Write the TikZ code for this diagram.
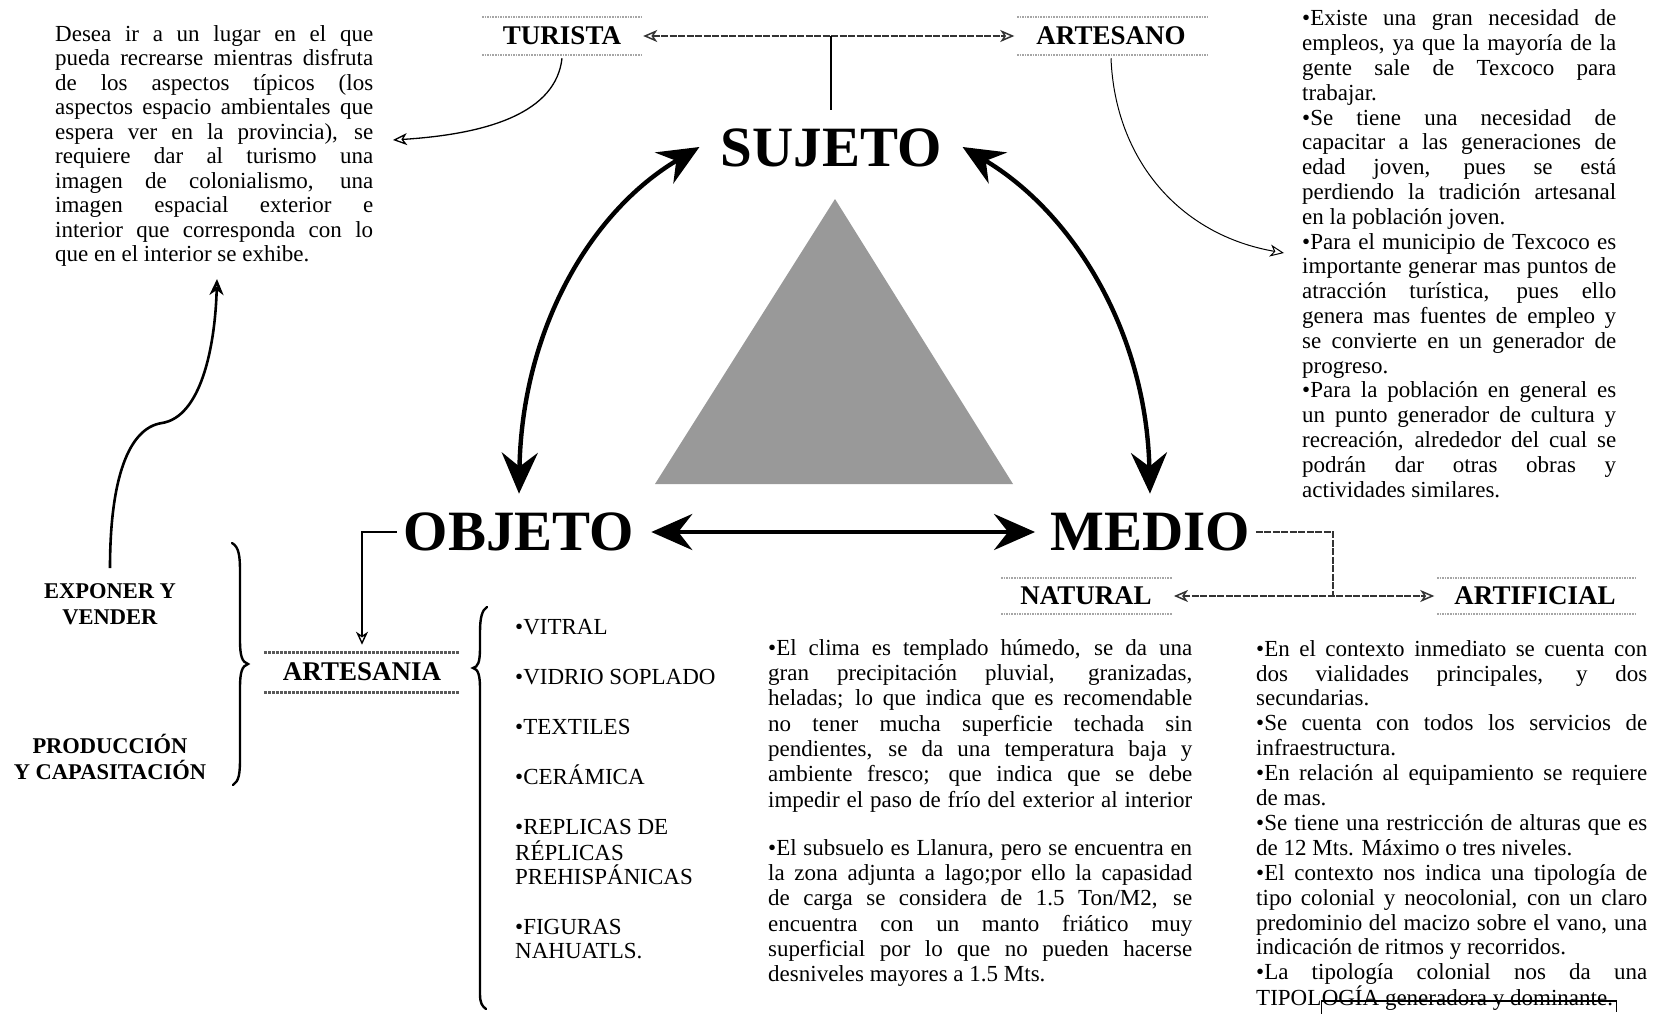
\documentclass[tikz,border=0pt]{standalone}
\usepackage{fontspec}
\setmainfont{Liberation Serif}
\usetikzlibrary{arrows.meta}
\newcommand\myjl[1]{\hbox to \hsize{\strut #1}}
\newcommand\myrl[1]{\hbox to \hsize{\strut #1\hfil}}
\begin{document}
\begin{tikzpicture}[x=1pt,y=-1pt,
  bigword/.style={inner sep=0pt, font=\fontsize{57}{60}\selectfont\bfseries},
  tag/.style={inner sep=0pt, font=\fontsize{27}{30}\selectfont\bfseries},
  sidetag/.style={inner sep=0pt, align=center, font=\fontsize{22.5}{26}\selectfont\bfseries},
  item/.style={inner sep=0pt, anchor=base west, font=\fontsize{23}{25}\selectfont},
  para/.style={inner sep=0pt, anchor=north west},
  heavyarrow/.style={line width=4.4pt, {Stealth[length=41pt,width=36pt,inset=14pt]}-{Stealth[length=41pt,width=36pt,inset=14pt]}},
  thinarrow/.style={line width=1.3pt, -{Stealth[open,length=14pt,width=12pt,inset=4pt]}},
  grayline/.style={line width=1.5pt, black!80, dash pattern=on 7pt off 1.5pt},
  tagedge/.style={line width=1.6pt, black!35, densely dotted},
  darkedge/.style={line width=3pt, black!65, densely dotted},
  bracestroke/.style={line width=2.4pt, line cap=round},
]
\useasboundingbox (0,0) rectangle (1667,1014);

% triangle
\fill[black!40] (835,199) -- (1013,484) -- (655,484) -- cycle;

% main words
\node[bigword] (suj) at (831,148) {SUJETO};
\node[bigword] (obj) at (519,532) {OBJETO};
\node[bigword] (med) at (1150,532) {MEDIO};

% tags
\node[tag] (tur) at (562,36) {TURISTA};
\node[tag] (arte) at (1111,36) {ARTESANO};
\node[tag] (nat) at (1086,596) {NATURAL};
\node[tag] (arti) at (1535,596) {ARTIFICIAL};
\node[tag] (artn) at (362,672) {ARTESANIA};
\draw[tagedge] (482,17) -- (642,17);
\draw[tagedge] (482,55) -- (642,55);
\draw[tagedge] (1017,17) -- (1207,17);
\draw[tagedge] (1017,55) -- (1207,55);
\draw[tagedge] (1001,578) -- (1172,578);
\draw[tagedge] (1001,614) -- (1172,614);
\draw[tagedge] (1437,578) -- (1635,578);
\draw[tagedge] (1437,614) -- (1635,614);
\draw[darkedge] (264,652) -- (459,652);
\draw[darkedge] (264,692) -- (459,692);

\node[sidetag] (expo) at (110,604) {EXPONER Y\\VENDER};
\node[sidetag] (prod) at (110,757) {PRODUCCIÓN\\Y CAPASITACIÓN};

% paragraphs
\node[para] (tl) at (55,23.7) {\parbox[t]{318pt}{\fontsize{23}{24.5}\selectfont
\myjl{Desea ir a un lugar en el que}
\myjl{pueda recrearse mientras disfruta}
\myjl{de los aspectos típicos (los}
\myjl{aspectos espacio ambientales que}
\myjl{espera ver en la provincia), se}
\myjl{requiere dar al turismo una}
\myjl{imagen de colonialismo, una}
\myjl{imagen espacial exterior e}
\myjl{interior que corresponda con lo}
\myrl{que en el interior se exhibe.}}};

\node[para] (tr) at (1302,8.3) {\parbox[t]{314pt}{\fontsize{23}{24.8}\selectfont
\myjl{•Existe una gran necesidad de}
\myjl{empleos, ya que la mayoría de la}
\myjl{gente sale de Texcoco para}
\myrl{trabajar.}
\myjl{•Se tiene una necesidad de}
\myjl{capacitar a las generaciones de}
\myjl{edad joven, pues se está}
\myjl{perdiendo la tradición artesanal}
\myrl{en la población joven.}
\myjl{•Para el municipio de Texcoco es}
\myjl{importante generar mas puntos de}
\myjl{atracción turística, pues ello}
\myjl{genera mas fuentes de empleo y}
\myjl{se convierte en un generador de}
\myrl{progreso.}
\myjl{•Para la población en general es}
\myjl{un punto generador de cultura y}
\myjl{recreación, alrededor del cual se}
\myjl{podrán dar otras obras y}
\myrl{actividades similares.}}};

\node[para] (bm1) at (768,637.3) {\parbox[t]{424pt}{\fontsize{23}{25.3}\selectfont
\myjl{•El clima es templado húmedo, se da una}
\myjl{gran precipitación pluvial, granizadas,}
\myjl{heladas; lo que indica que es recomendable}
\myjl{no tener mucha superficie techada sin}
\myjl{pendientes, se da una temperatura baja y}
\myjl{ambiente fresco; que indica que se debe}
\myjl{impedir el paso de frío del exterior al interior}}};

\node[para] (bm2) at (768,837.3) {\parbox[t]{424pt}{\fontsize{23}{25.3}\selectfont
\myjl{•El subsuelo es Llanura, pero se encuentra en}
\myjl{la zona adjunta a lago;por ello la capasidad}
\myjl{de carga se considera de 1.5 Ton/M2, se}
\myjl{encuentra con un manto friático muy}
\myjl{superficial por lo que no pueden hacerse}
\myrl{desniveles mayores a 1.5 Mts.}}};

\node[para] (br) at (1256,638.5) {\parbox[t]{391pt}{\fontsize{23}{24.9}\selectfont
\myjl{•En el contexto inmediato se cuenta con}
\myjl{dos vialidades principales, y dos}
\myrl{secundarias.}
\myjl{•Se cuenta con todos los servicios de}
\myrl{infraestructura.}
\myjl{•En relación al equipamiento se requiere}
\myrl{de mas.}
\myjl{•Se tiene una restricción de alturas que es}
\myrl{de 12 Mts. Máximo o tres niveles.}
\myjl{•El contexto nos indica una tipología de}
\myjl{tipo colonial y neocolonial, con un claro}
\myjl{predominio del macizo sobre el vano, una}
\myrl{indicación de ritmos y recorridos.}
\myjl{•La tipología colonial nos da una}}};
\node[item] (tipa) at (1256,1005) {TIPOL};
\node[item, anchor=base west] (tipb) at (tipa.base east) {OGÍA generadora y dominante.};
\draw[line width=1.4pt] ([yshift=-12pt]tipb.base west) -- ([yshift=4pt]tipb.base west) -- ([xshift=3pt,yshift=4pt]tipb.base east) -- ([xshift=3pt,yshift=-7pt]tipb.base east);

% list
\node[item] (i1) at (515,634) {•VITRAL};
\node[item] (i2) at (515,684) {•VIDRIO SOPLADO};
\node[item] (i3) at (515,734) {•TEXTILES};
\node[item] (i4) at (515,784) {•CERÁMICA};
\node[item] (i5) at (515,834) {•REPLICAS DE};
\node[item] (i5b) at (515,860) {RÉPLICAS};
\node[item] (i5c) at (515,884) {PREHISPÁNICAS};
\node[item] (i6) at (515,934) {•FIGURAS};
\node[item] (i6b) at (515,958) {NAHUATLS.};

% free ends
\coordinate (tlin) at (393,140);
\coordinate (trin) at (1284,253);
\coordinate (tlup) at (217,279);
\coordinate (mj) at (1333,596);

% heavy arrows
\draw[heavyarrow] ([yshift=19pt]obj.north) .. controls (522,330) and (590,212) .. ([xshift=-21pt,yshift=1pt]suj.west);
\draw[heavyarrow] ([xshift=21pt,yshift=1pt]suj.east) .. controls (1072,212) and (1146,330) .. ([yshift=19pt]med.north);
\draw[heavyarrow] ([xshift=17pt]obj.east) -- ([xshift=-15pt]med.west);

% top connectors
\draw[grayline, {Stealth[open,length=14pt,width=12pt,inset=4pt]}-{Stealth[open,length=14pt,width=12pt,inset=4pt]}] ([xshift=22pt]tur.east) -- ([xshift=-22pt]arte.west);
\draw[line width=1.4pt] (suj.north |- tur.center) -- ([yshift=19pt]suj.north);
\draw[thinarrow] ([yshift=-13pt]tur.south) .. controls (556,112) and (490,134) .. (tlin);
\draw[thinarrow, line width=1pt] ([yshift=-13pt]arte.south) .. controls (1115,160) and (1180,235) .. (trin);

% left S arrow
\draw[line width=2.6pt, -{Stealth[open,length=16pt,width=14pt,inset=5pt]}] ([yshift=15pt]expo.north) .. controls (110,480) and (128,428) .. (162,423) .. controls (200,417) and (215,350) .. (tlup);

% braces
\draw[bracestroke] (232,543) .. controls (239,547) and (240,556) .. (240,572) -- (240,640) .. controls (240,656) and (242,662) .. (248,664) .. controls (242,666) and (240,672) .. (240,688) -- (240,758) .. controls (240,774) and (239,781) .. (233,785);
\draw[bracestroke] (487,607) .. controls (482,610) and (480,618) .. (480,632) -- (480,648) .. controls (480,662) and (478,667) .. (473,668) .. controls (478,669) and (480,675) .. (480,688) -- (480,994) .. controls (480,1003) and (482,1006) .. (486,1009);

% objeto -> artesania
\draw[line width=1.4pt, -{Stealth[open,length=13pt,width=12pt,inset=4pt]}] ([xshift=-7pt]obj.west) -| ([yshift=18pt]artn.north);

% medio -> natural / artificial
\draw[grayline] ([xshift=6pt]med.east) -| (mj);
\draw[grayline, {Stealth[open,length=14pt,width=12pt,inset=4pt]}-{Stealth[open,length=14pt,width=12pt,inset=4pt]}] ([xshift=22pt]nat.east) -- ([xshift=-20pt]arti.west);
\end{tikzpicture}
\end{document}
